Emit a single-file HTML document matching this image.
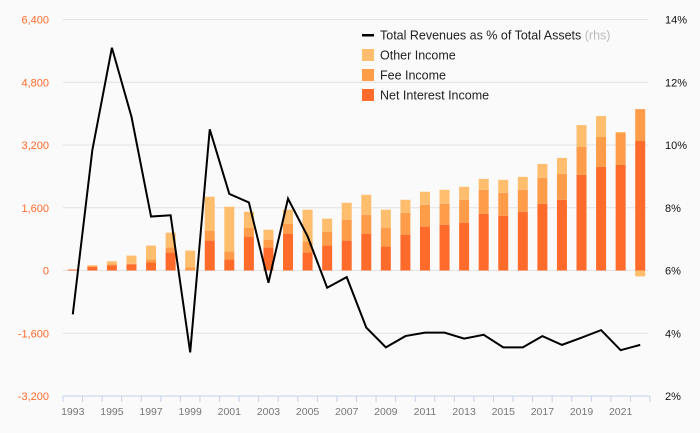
<!DOCTYPE html>
<html><head><meta charset="utf-8"><style>
body{margin:0;background:#fafafa;}
svg{display:block;font-family:"Liberation Sans",sans-serif;}
</style></head><body>
<svg id="chart" width="700" height="433"></svg>
<script>
const years=[1993,1994,1995,1996,1997,1998,1999,2000,2001,2002,2003,2004,2005,2006,2007,2008,2009,2010,2011,2012,2013,2014,2015,2016,2017,2018,2019,2020,2021,2022];
const netInterest=[25,90,127,160,203,457,0,762,279,864,584,940,457,635,762,940,610,914,1118,1168,1219,1448,1397,1499,1702,1803,2438,2642,2692,3302];
const feeIncome=[0,20,33,10,76,127,76,254,204,228,203,254,280,356,534,482,482,559,558,534,584,609,584,558,660,661,712,762,813,813];
const otherIncome=[0,25,77,210,356,381,432,864,1143,407,254,356,813,330,431,508,458,330,331,355,331,280,330,331,356,406,558,533,26,-150];
const revPct=[4.6,9.84,13.1,10.9,7.72,7.76,3.39,10.5,8.44,8.17,5.61,8.29,7.09,5.45,5.79,4.18,3.55,3.91,4.02,4.02,3.83,3.95,3.55,3.55,3.91,3.63,3.86,4.1,3.46,3.63];
const leftTicks=[-3200,-1600,0,1600,3200,4800,6400];
const rightTicks=[2,4,6,8,10,12,14];

const NS="http://www.w3.org/2000/svg";
const svg=document.getElementById('chart');
const X0=63,X1=650,Y0=396,Y1=19.5;
const step=(X1-X0)/years.length;
const xC=i=>X0+(i+0.5)*step;
const yL=v=>Y0-(v+3200)/9600*(Y0-Y1);
const yR=p=>Y0-(p-2)/12*(Y0-Y1);
function mk(t,a,p){const e=document.createElementNS(NS,t);for(const k in a)e.setAttribute(k,a[k]);(p||svg).appendChild(e);return e;}

leftTicks.forEach(v=>{
  const y=yL(v);
  if(v!==-3200){const g=mk('line',{x1:X0,x2:648,y1:y,y2:y,stroke:'#e2e2e2','stroke-width':1});
  
  }
  const t=mk('text',{x:49,y:y+4,'text-anchor':'end','font-size':11,fill:'#ff6b2b'});
  t.textContent=v.toLocaleString('en-US');
  
  
});
rightTicks.forEach(p=>{
  const t=mk('text',{x:665,y:yR(p)+4,'font-size':11,fill:'#111'});
  t.textContent=p+'%';
  
  
});
const ax=mk('line',{x1:X0,x2:X1,y1:Y0,y2:Y0,stroke:'#c5d3ea','stroke-width':1});


for(let i=0;i<=years.length;i++){
  const tk=mk('line',{x1:X0+i*step,x2:X0+i*step,y1:Y0,y2:Y0+6,stroke:'#c5d3ea'});
  
  
}
years.forEach((yr,i)=>{
  if(i%2===0){const t=mk('text',{x:xC(i),y:415,'text-anchor':'middle','font-size':10.5,fill:'#777'});
  t.textContent=yr;
  
  }
  const w=10,x=xC(i)-w/2;
  const segs=[[0,netInterest[i],'#ff6b2b','bar-net-interest'],[netInterest[i],netInterest[i]+feeIncome[i],'#ff9c4a','bar-fee-income']];
  const top=netInterest[i]+feeIncome[i];
  if(otherIncome[i]>=0)segs.push([top,top+otherIncome[i],'#ffbd6e','bar-other-income']);
  else segs.push([otherIncome[i],0,'#ffbd6e','bar-other-income']);
  segs.forEach(s=>{
    const a=yL(s[0]),b=yL(s[1]);
    if(Math.abs(a-b)<0.01)return;
    const r=mk('rect',{x:x,y:Math.min(a,b),width:w,height:Math.abs(a-b),fill:s[2]});
    
    
  });
});
const line=mk('polyline',{points:revPct.map((p,i)=>xC(i)+','+yR(p)).join(' '),fill:'none',stroke:'#000','stroke-width':2,'stroke-linejoin':'miter'});



const leg=[['line','Total Revenues as % of Total Assets','#000'],['rect','Other Income','#ffbd6e'],['rect','Fee Income','#ff9c4a'],['rect','Net Interest Income','#ff6b2b']];
leg.forEach((l,k)=>{
  const y=35+k*20;
  const g=mk('g',{});
  
  
  if(l[0]==='line')mk('rect',{x:362,y:y-1,width:12,height:2.5,fill:'#000'},g);
  else mk('rect',{x:362,y:y-6,width:12,height:12,fill:l[2]},g);
  const t=mk('text',{x:380,y:y+4.5,'font-size':12.5,fill:'#222'},g);
  t.textContent=l[1];
  if(k===0){const s=mk('tspan',{fill:'#bbb'},t);s.textContent=' (rhs)';}
});
</script>
</body></html>
